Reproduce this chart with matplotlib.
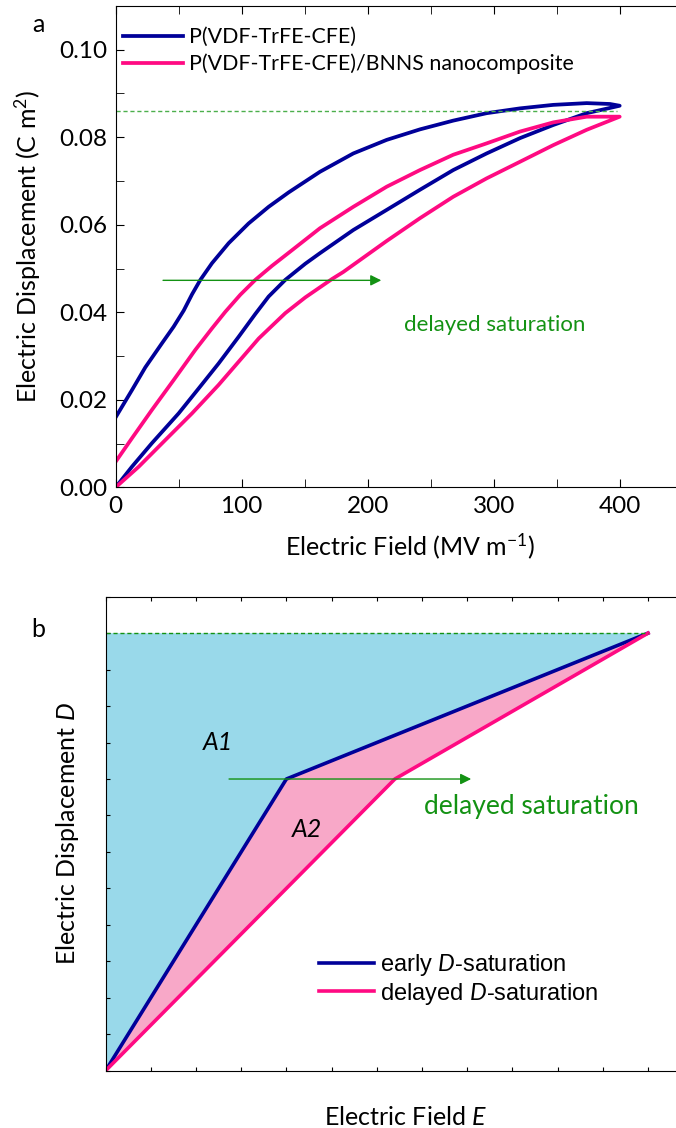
import numpy as np
import matplotlib
matplotlib.use('Agg')
import matplotlib.pyplot as plt

plt.rcParams['font.family'] = ['Lato', 'DejaVu Sans']
plt.rcParams['mathtext.fontset'] = 'custom'
plt.rcParams['mathtext.rm'] = 'Lato'
plt.rcParams['mathtext.it'] = 'Lato:italic'

### colours
BLUE = '#000099'
PINK = '#ff0a82'
GREEN = '#139213'

### panel a: D-E loops (MV/m, C/m2)
# P(VDF-TrFE-CFE), charging branch
blue_up_E = [0, 12.9, 28.8, 50, 65.9, 81.7, 97.6, 110.8, 121.4, 134.6, 150.5, 162.1, 188.6, 215.1,
             241.5, 267.9, 294.4, 320.9, 347.3, 373.8, 400]
blue_up_D = [0, 0.0047, 0.0101, 0.0169, 0.0226, 0.0283, 0.0344, 0.0396, 0.0436, 0.0474, 0.0511, 0.0535,
             0.0588, 0.0634, 0.068, 0.0725, 0.0763, 0.0798, 0.0828, 0.0855, 0.0872]
# P(VDF-TrFE-CFE), discharging branch
blue_dn_E = [400, 392.3, 373.8, 347.3, 320.9, 294.4, 267.9, 241.5, 215.1, 188.6, 162.1, 137.3, 121.4,
             105.5, 89.7, 76.4, 67.2, 60.6, 54, 46, 36.7, 23.5, 12.9, 0]
blue_dn_D = [0.0872, 0.0876, 0.0878, 0.0874, 0.0866, 0.0855, 0.0838, 0.0818, 0.0794, 0.0763, 0.0721,
             0.0674, 0.0641, 0.0603, 0.0558, 0.0512, 0.0474, 0.0441, 0.0404, 0.0367, 0.0329, 0.0274,
             0.0222, 0.016]
# nanocomposite, charging branch
pink_up_E = [0, 18.3, 39.4, 60.6, 81.7, 97.6, 113.5, 134.6, 150.5, 171.7, 180.6, 215.1, 241.5, 267.9,
             294.4, 320.9, 347.3, 373.8, 400]
pink_up_D = [0, 0.0047, 0.0108, 0.0169, 0.0234, 0.0287, 0.034, 0.0398, 0.0434, 0.0476, 0.0492, 0.0563,
             0.0615, 0.0664, 0.0706, 0.0744, 0.0782, 0.0817, 0.0847]
# nanocomposite, discharging branch
pink_dn_E = [400, 373.8, 347.3, 320.9, 294.4, 267.9, 241.5, 215.1, 188.6, 162.1, 140, 124, 110.8, 98.9,
             87, 76.4, 63.2, 46, 28.8, 12.9, 0]
pink_dn_D = [0.0847, 0.0847, 0.0834, 0.0813, 0.0786, 0.076, 0.0725, 0.0687, 0.0641, 0.0592, 0.0542,
             0.0506, 0.0474, 0.044, 0.0401, 0.0363, 0.0314, 0.0245, 0.0177, 0.0112, 0.00585]

D_ref_a = 0.0859          # dashed saturation level
arrow_a = [35.4, 213]     # arrow start / end along E
arrow_a_D = 0.0473

### panel b: schematic
early_E = [0, 4, 12]
early_D = [0, 8, 12]
late_E = [0, 6.4, 12]
late_D = [0, 8, 12]
D_sat = 12
arrow_b = [2.67, 8.15]
arrow_b_D = 8

fig = plt.figure(figsize=(6.76, 11.28), dpi=100)

### ---------- panel a ----------
ax = fig.add_axes([0.1711, 0.568, 0.8388, 0.4267])
ax.plot(blue_up_E + blue_dn_E, blue_up_D + blue_dn_D, color=BLUE, lw=2.7, label='P(VDF-TrFE-CFE)')
ax.plot(pink_up_E + pink_dn_E, pink_up_D + pink_dn_D, color=PINK, lw=2.7,
        label='P(VDF-TrFE-CFE)/BNNS nanocomposite')
ax.plot([0, 397.6], [D_ref_a, D_ref_a], color='#4caf4c', lw=1, ls=(0, (3, 2)))
ax.annotate('', xy=(arrow_a[1], arrow_a_D), xytext=(arrow_a[0], arrow_a_D),
            arrowprops=dict(arrowstyle='-|>', color=GREEN, lw=1, mutation_scale=16))
ax.text(300.6, 0.0371, 'delayed saturation', color=GREEN, fontsize=16, ha='center', va='center')

ax.set_xlim(0, 450)
ax.set_ylim(0, 0.11)
ax.set_xticks([0, 100, 200, 300, 400])
ax.set_xticks([50, 150, 250, 350], minor=True)
ax.set_yticks([0, 0.02, 0.04, 0.06, 0.08, 0.10])
ax.set_yticklabels(['0.00', '0.02', '0.04', '0.06', '0.08', '0.10'])
ax.set_yticks([0.01, 0.03, 0.05, 0.07, 0.09], minor=True)
ax.tick_params(which='both', direction='in', top=True, labelsize=17.5, pad=6, length=6)
ax.set_xlabel('Electric Field (MV m$^{-1}$)', fontsize=18)
ax.set_ylabel('Electric Displacement (C m$^{2}$)', fontsize=18)
ax.xaxis.set_label_coords(0.52, -0.092)
ax.yaxis.set_label_coords(-0.128, 0.5)
ax.legend(loc='center left', bbox_to_anchor=(0.0129, 0.907), frameon=False, fontsize=15.4,
          handlelength=2.8, handletextpad=0.3, labelspacing=0.3, borderpad=0, borderaxespad=0)
fig.text(0.057, 0.978, 'a', fontsize=18, ha='center', va='center')

### ---------- panel b ----------
bx = fig.add_axes([0.1562, 0.0508, 0.8692, 0.4202])
bx.fill(np.r_[early_E, 0], np.r_[early_D, D_sat], color='#99d9ea', lw=0)
bx.fill(np.r_[early_E, late_E[::-1]], np.r_[early_D, late_D[::-1]], color='#f8a8c8', lw=0)
bx.plot(early_E, early_D, color=BLUE, lw=2.6, label='early $D$-saturation')
bx.plot(late_E, late_D, color=PINK, lw=2.6, label='delayed $D$-saturation')
bx.plot([0, early_E[-1]], [D_sat, D_sat], color=GREEN, lw=1, ls=(0, (3, 2)))
bx.annotate('', xy=(arrow_b[1], arrow_b_D), xytext=(arrow_b[0], arrow_b_D),
            arrowprops=dict(arrowstyle='-|>', color=GREEN, lw=1, mutation_scale=16))
bx.text(9.41, 7.25, 'delayed saturation', color=GREEN, fontsize=19, ha='center', va='center')
bx.text(2.48, 9.0, 'A1', fontsize=18, style='italic', ha='center', va='center')
bx.text(4.45, 6.62, 'A2', fontsize=18, style='italic', ha='center', va='center')

bx.set_xlim(0, 13)
bx.set_ylim(0, 13)
bx.set_xticks(np.arange(0, 14, 1))
bx.set_yticks(np.arange(0, 14, 1))
bx.tick_params(which='both', direction='in', top=True, length=3, labelbottom=False, labelleft=False)
bx.set_xlabel('Electric Field $E$', fontsize=18)
bx.set_ylabel('Electric Displacement $D$', fontsize=18)
bx.xaxis.set_label_coords(0.51, -0.075)
bx.yaxis.set_label_coords(-0.042, 0.5)
bx.legend(loc='center left', bbox_to_anchor=(0.363, 0.1924), frameon=False,
          prop={'family': 'Liberation Sans', 'size': 17},
          handlelength=2.33, handletextpad=0.25, labelspacing=0.1, borderpad=0, borderaxespad=0)
fig.text(0.057, 0.442, 'b', fontsize=18, ha='center', va='center')

fig.savefig('out.png', dpi=100)
